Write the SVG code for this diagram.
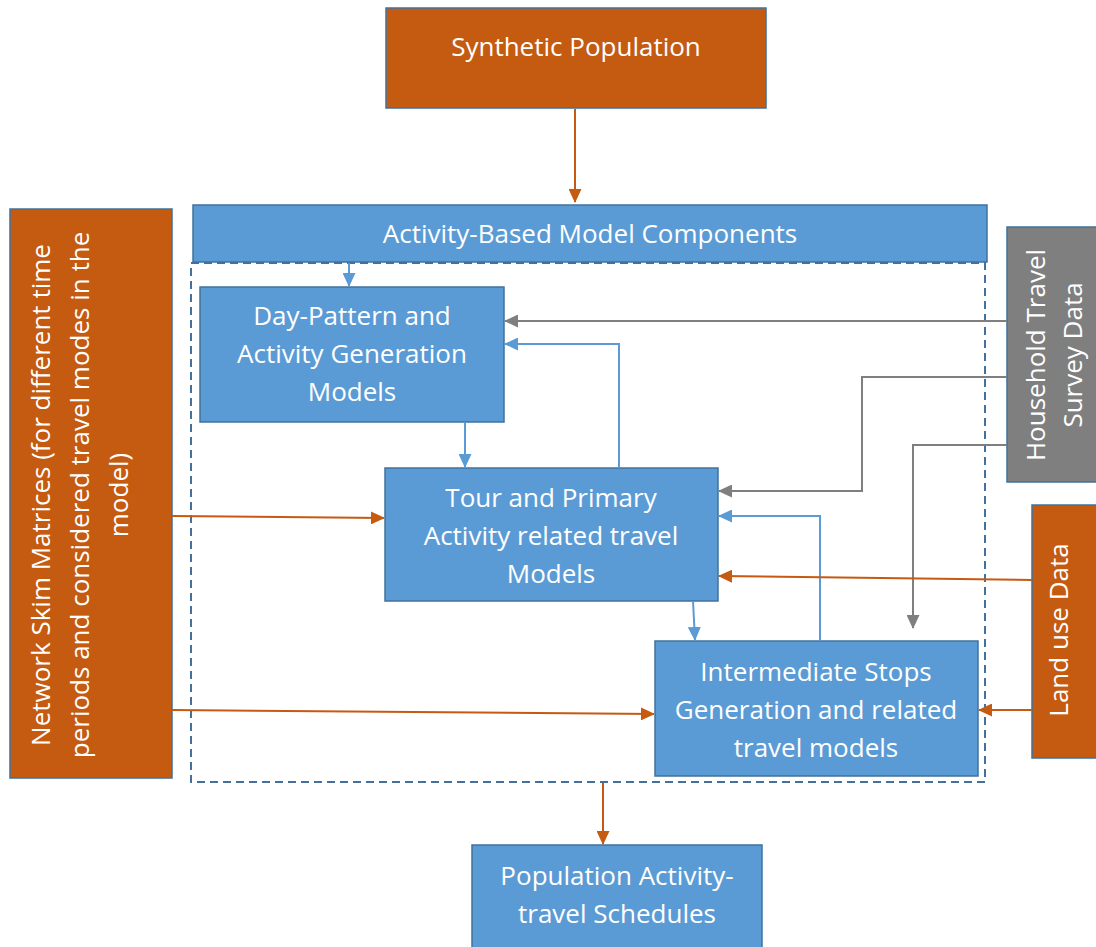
<svg xmlns="http://www.w3.org/2000/svg" width="1096" height="947" viewBox="0 0 1096 947">
<defs>
<style>
.blue{fill:#5B9BD5;stroke:#41719C;stroke-width:1.5}
.orange{fill:#C55A11;stroke:#41719C;stroke-width:1.5}
.gray{fill:#7F7F7F;stroke:#41719C;stroke-width:1.5}
text{font-family:"Open Sans",Lato,sans-serif;font-size:26px;fill:#ffffff;text-anchor:middle}
.co{fill:none;stroke:#C55A11;stroke-width:2}
.cb{fill:none;stroke:#5B9BD5;stroke-width:2}
.cg{fill:none;stroke:#7F7F7F;stroke-width:2}
</style>
<marker id="ao" markerWidth="14" markerHeight="13" refX="13" refY="6.5" orient="auto" markerUnits="userSpaceOnUse"><path d="M0,0 L14,6.5 L0,13 z" fill="#C55A11"/></marker>
<marker id="ab" markerWidth="14" markerHeight="13" refX="13" refY="6.5" orient="auto" markerUnits="userSpaceOnUse"><path d="M0,0 L14,6.5 L0,13 z" fill="#5B9BD5"/></marker>
<marker id="ag" markerWidth="14" markerHeight="13" refX="13" refY="6.5" orient="auto" markerUnits="userSpaceOnUse"><path d="M0,0 L14,6.5 L0,13 z" fill="#7F7F7F"/></marker>
</defs>
<rect width="1096" height="947" fill="#ffffff"/>
<g id="boundary">
<rect x="191" y="263" width="794" height="519" fill="none" stroke="#41719C" stroke-width="2" stroke-dasharray="8,5"/>
</g>
<g id="synthetic-population">
<rect class="orange" x="386" y="8" width="380" height="100"/>
<text x="576" y="56">Synthetic Population</text>
</g>
<g id="abm-components">
<rect class="blue" x="193" y="205" width="794" height="57"/>
<text x="590" y="243">Activity-Based Model Components</text>
</g>
<g id="day-pattern">
<rect class="blue" x="200" y="287" width="304" height="135"/>
<text x="352" y="325">Day-Pattern and</text>
<text x="352" y="363">Activity Generation</text>
<text x="352" y="401">Models</text>
</g>
<g id="tour">
<rect class="blue" x="385" y="468" width="333" height="133"/>
<text x="551" y="507">Tour and Primary</text>
<text x="551" y="545">Activity related travel</text>
<text x="551" y="583">Models</text>
</g>
<g id="intermediate">
<rect class="blue" x="655" y="641" width="323" height="135"/>
<text x="816" y="681">Intermediate Stops</text>
<text x="816" y="719">Generation and related</text>
<text x="816" y="757">travel models</text>
</g>
<g id="population-schedules">
<rect class="blue" x="472" y="845" width="290" height="110"/>
<text x="617" y="885">Population Activity-</text>
<text x="617" y="923">travel Schedules</text>
</g>
<g id="network-skim">
<rect class="orange" x="10" y="209" width="162" height="569"/>
<text transform="translate(50,495) rotate(-90)">Network Skim Matrices (for different time</text>
<text transform="translate(89,495) rotate(-90)">periods and considered travel modes in the</text>
<text transform="translate(128,495) rotate(-90)">model)</text>
</g>
<g id="household-survey">
<rect class="gray" x="1007" y="227" width="95" height="255"/>
<text transform="translate(1045,355) rotate(-90)">Household Travel</text>
<text transform="translate(1082,355) rotate(-90)">Survey Data</text>
</g>
<g id="land-use">
<rect class="orange" x="1032" y="505" width="70" height="253"/>
<text transform="translate(1068,630) rotate(-90)">Land use Data</text>
</g>
<g id="connectors">
<path class="co" d="M575,109 V202" marker-end="url(#ao)"/>
<path class="cb" d="M349,263 V286" marker-end="url(#ab)"/>
<path class="cg" d="M1007,321 H505" marker-end="url(#ag)"/>
<path class="cg" d="M1007,377 H862 V491 H719" marker-end="url(#ag)"/>
<path class="cg" d="M1007,445 H913 V628" marker-end="url(#ag)"/>
<path class="cb" d="M619,468 V344 H505" marker-end="url(#ab)"/>
<path class="cb" d="M820,641 V516 H719" marker-end="url(#ab)"/>
<path class="cb" d="M465,422 V467" marker-end="url(#ab)"/>
<path class="cb" d="M693,601 L695,640" marker-end="url(#ab)"/>
<path class="co" d="M172,516 L384,518" marker-end="url(#ao)"/>
<path class="co" d="M172,710 L654,714" marker-end="url(#ao)"/>
<path class="co" d="M1032,580 L719,576" marker-end="url(#ao)"/>
<path class="co" d="M1032,710 H979" marker-end="url(#ao)"/>
<path class="co" d="M603,783 V844" marker-end="url(#ao)"/>
</g>
</svg>
